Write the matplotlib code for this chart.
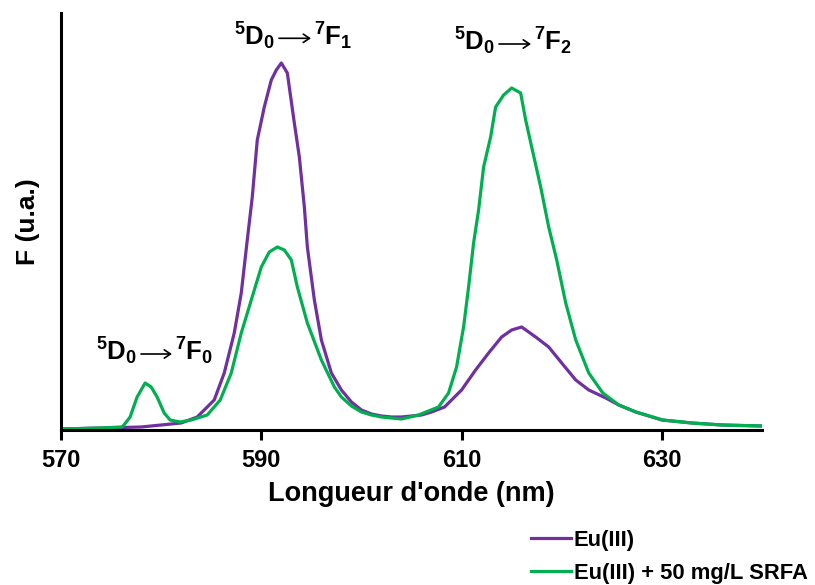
import matplotlib
matplotlib.use("Agg")
import matplotlib.pyplot as plt
from matplotlib.patches import FancyArrowPatch

plt.rcParams['font.family'] = ['Liberation Sans', 'DejaVu Sans']
plt.rcParams['font.weight'] = 'bold'
plt.rcParams['mathtext.fontset'] = 'custom'
plt.rcParams['mathtext.rm'] = 'Liberation Sans:bold'
plt.rcParams['mathtext.it'] = 'Liberation Sans:bold'
plt.rcParams['mathtext.bf'] = 'Liberation Sans:bold'

# Eu(III)
wl_eu = [570, 574, 578, 580, 582, 583.6, 585.3, 586.3, 587.3, 588.0, 588.6, 589.1, 589.6,
         590.3, 591.0, 591.5, 592.0, 592.6, 593.3, 593.8, 594.3, 594.6, 595.3, 596.0, 597.0,
         598.0, 599, 600, 601, 602, 603, 604, 605, 606, 607, 608.3, 609, 610, 611.4, 612.7,
         614, 615, 616, 617.4, 618.7, 620, 621.4, 622.7, 624.4, 625.7, 627.4, 630, 633, 636, 640]
f_eu = [1, 2, 3, 5, 7, 13, 30, 57, 97, 137, 190, 233, 290,
        323, 350, 360, 367, 357, 307, 273, 223, 183, 130, 90, 57,
        40, 28, 20, 16, 14, 13, 13, 14, 15, 18, 23, 30, 40, 60, 77,
        93, 100, 103, 93, 83, 67, 50, 40, 32, 25, 18, 10, 7, 5, 4]

# Eu(III) + 50 mg/L SRFA
wl_srfa = [570, 574, 576, 576.2, 576.9, 577.6, 578.4, 579.0, 579.6, 580.3, 580.9, 581.9, 583,
           584.6, 585.9, 587.0, 588.0, 589.0, 590.0, 590.8, 591.6, 592.3, 593.0, 593.6, 594.6,
           596.0, 597.3, 598, 599, 600, 601, 602, 603, 604, 605.7, 607.7, 608.7, 609.5, 610.2,
           610.7, 611.2, 611.7, 612.2, 612.9, 613.4, 614.2, 615.0, 615.9, 616.4, 617.0, 617.9,
           618.7, 619.5, 620.4, 621.4, 622.7, 624.1, 625.7, 627.4, 630.1, 633, 636, 640]
f_srfa = [1, 2, 3, 4, 13, 33, 47, 43, 33, 17, 10, 8, 10,
          15, 30, 57, 97, 130, 163, 178, 183, 180, 170, 143, 107,
          70, 43, 33, 24, 18, 15, 13, 12, 11, 15, 23, 37, 63, 103,
          143, 187, 220, 263, 293, 323, 335, 342, 337, 310, 283, 243,
          203, 170, 127, 90, 57, 37, 25, 18, 10, 7, 5, 4]

labels = ['Eu(III)', 'Eu(III) + 50 mg/L SRFA']
colors = ['#7030A0', '#00B050']
xticks = [570, 590, 610, 630]
trans_left = [r'$^{5}$D$_{0}$', r'$^{5}$D$_{0}$', r'$^{5}$D$_{0}$']
trans_right = [r'$^{7}$F$_{0}$', r'$^{7}$F$_{1}$', r'$^{7}$F$_{2}$']

W, H = 815, 585
fig = plt.figure(figsize=(W / 100, H / 100), dpi=100)
ax = fig.add_axes([61/W, 155/H, 701/W, 417/H])
ax.plot(wl_eu, f_eu, color=colors[0], lw=2.3, label=labels[0])
ax.plot(wl_srfa, f_srfa, color=colors[1], lw=2.3, label=labels[1])
ax.set_xlim(570, 640)
ax.set_ylim(0, 417)
ax.spines['top'].set_visible(False)
ax.spines['right'].set_visible(False)
ax.spines['left'].set_linewidth(2.2)
ax.spines['bottom'].set_linewidth(2.2)
ax.set_yticks([])
ax.set_xticks(xticks)
ax.tick_params(axis='x', direction='out', length=7, width=2.2, labelsize=17, pad=7)
for t in ax.get_xticklabels():
    t.set_fontweight('bold')
ax.set_xlabel("Longueur d'onde (nm)", fontsize=19.5, fontweight='bold', labelpad=6)
ax.set_ylabel("F (u.a.)", fontsize=19, fontweight='bold', labelpad=15)

# annotation layout: (arrow start px, arrow end px, text baseline px)
ann_pos = [(141, 172, 360.7), (279, 311, 45.0), (499, 531, 50.7)]
for left, right, (x0, x1, yb) in zip(trans_left, trans_right, ann_pos):
    fig.text((x0 - 4) / W, 1 - yb / H, left, fontsize=18.5, fontweight='bold',
             ha='right', va='baseline')
    fig.text((x1 + 3) / W, 1 - yb / H, right, fontsize=18.5, fontweight='bold',
             ha='left', va='baseline')
    ya = 1 - (yb - 6.7) / H
    fig.add_artist(FancyArrowPatch((x0 / W, ya), (x1 / W, ya), transform=fig.transFigure,
                                   arrowstyle='->,head_length=0.45,head_width=0.3',
                                   mutation_scale=10, lw=1.2, color='black',
                                   shrinkA=0, shrinkB=0))

fig.legend(loc='upper left', bbox_to_anchor=(511/W, 1 - 510/H), frameon=False,
           handlelength=1.85, handletextpad=0.12, labelspacing=0.55,
           prop={'weight': 'bold', 'size': 15.8})

fig.savefig('out.png', dpi=100)
